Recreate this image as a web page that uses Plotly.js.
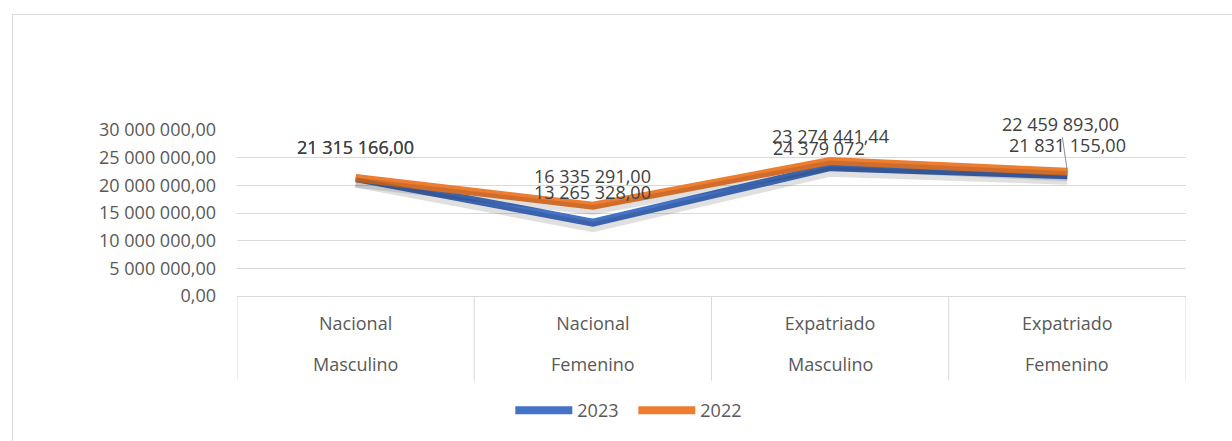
<!DOCTYPE html>
<html>
<head>
<meta charset="utf-8">
<script src="https://cdn.plot.ly/plotly-3.0.1.min.js"></script>
<style>
  html, body { margin: 0; padding: 0; background: #fff; overflow: hidden; }
  #chart { width: 1232px; height: 441px; }
  #frame { position: absolute; left: 12px; top: 14px; width: 1300px; height: 500px;
           border: 1px solid #d9d9d9; pointer-events: none; }
</style>
</head>
<body>
<div id="chart"></div>
<div id="frame"></div>
<script>
var origen = ['Nacional', 'Nacional', 'Expatriado', 'Expatriado'];
var genero = ['Masculino', 'Femenino', 'Masculino', 'Femenino'];

var valores2023 = [21315166.00, 13265328.00, 23274441.44, 21831155.00];
var valores2022 = [21315166.00, 16335291.00, 24379072.00, 22459893.00];

var etiquetas2023 = ['21 315 166,00', '13 265 328,00', '23 274 441,44', '21 831 155,00'];
var etiquetas2022 = ['21 315 166,00', '16 335 291,00', '24 379 072', '22 459 893,00'];

// label offsets in px (Excel placed them by hand)
var despl2023 = [[0, 31], [0, 31], [0, 31], [0, 30]];
var despl2022 = [[0, 31], [0, 30], [-11, 13], [-7, 48]];

var fuente = 'Open Sans, sans-serif';
var xpos = origen.map(function (o, i) { return i; });

var traces = [
  {
    x: xpos, y: valores2023, yaxis: 'y2', type: 'scatter', mode: 'lines',
    line: { color: 'rgba(0,0,0,0.12)', width: 10 },
    showlegend: false, hoverinfo: 'skip'
  },
  {
    x: xpos, y: valores2022, yaxis: 'y2', type: 'scatter', mode: 'lines',
    line: { color: 'rgba(0,0,0,0.12)', width: 10 },
    showlegend: false, hoverinfo: 'skip'
  },
  {
    x: xpos, y: valores2023, type: 'scatter', mode: 'lines', name: '2023',
    line: { color: '#4472C4', width: 8 }
  },
  {
    x: xpos, y: valores2022, type: 'scatter', mode: 'lines', name: '2022',
    line: { color: '#ED7D31', width: 8 }
  }
];

var annotations = [];
function addLabels(vals, labels, offs, leader) {
  for (var i = 0; i < vals.length; i++) {
    var a = {
      x: i, y: vals[i], xref: 'x', yref: 'y',
      text: labels[i],
      showarrow: false,
      font: { family: fuente, size: 18, color: '#404040' }
    };
    if (leader && i === 3) {
      a.showarrow = true;
      a.arrowhead = 0; a.arrowwidth = 1; a.arrowcolor = '#8c8c8c';
      a.ax = offs[i][0]; a.ay = -offs[i][1];
    } else {
      a.xshift = offs[i][0]; a.yshift = offs[i][1];
    }
    annotations.push(a);
  }
}
addLabels(valores2023, etiquetas2023, despl2023, false);
addLabels(valores2022, etiquetas2022, despl2022, true);

// second row of the category table
genero.forEach(function (g, i) {
  annotations.push({
    x: i, y: -0.41, xref: 'x', yref: 'paper', yanchor: 'middle',
    text: g, showarrow: false,
    font: { family: fuente, size: 18, color: '#595959' }
  });
});

// vertical lines of the category table
var shapes = [];
for (var k = 0; k <= origen.length; k++) {
  shapes.push({
    type: 'line', xref: 'x', yref: 'paper',
    x0: k - 0.5, x1: k - 0.5, y0: 0, y1: -0.51,
    line: { color: '#d9d9d9', width: 1 }
  });
}

var layout = {
  width: 1232,
  height: 441,
  margin: { l: 237, r: 46, t: 130, b: 145 },
  paper_bgcolor: 'rgba(0,0,0,0)',
  plot_bgcolor: '#fff',
  separators: ', ',
  font: { family: fuente, size: 18, color: '#595959' },
  xaxis: {
    range: [-0.5, 3.5],
    tickvals: xpos,
    ticktext: origen,
    showline: true, linecolor: '#d9d9d9', linewidth: 1,
    showgrid: false, zeroline: false,
    ticks: '',
    ticklabelstandoff: 11,
    tickfont: { family: fuente, size: 18, color: '#595959' }
  },
  yaxis: {
    range: [0, 30000000],
    tickvals: [0, 5000000, 10000000, 15000000, 20000000, 25000000, 30000000],
    tickformat: ',.2f',
    gridcolor: '#d9d9d9', gridwidth: 1,
    zeroline: false, showline: false,
    ticklabelstandoff: 20,
    tickfont: { family: fuente, size: 18, color: '#595959' }
  },
  yaxis2: {
    overlaying: 'y',
    range: [800000, 30800000],
    visible: false
  },
  legend: {
    orientation: 'h',
    x: 0.288, xanchor: 'left',
    y: -0.69, yanchor: 'middle',
    itemwidth: 57,
    entrywidth: 51,
    font: { family: fuente, size: 18, color: '#595959' }
  },
  annotations: annotations,
  shapes: shapes,
  showlegend: true
};

Plotly.newPlot('chart', traces, layout, { displayModeBar: false, staticPlot: true });
</script>
</body>
</html>
